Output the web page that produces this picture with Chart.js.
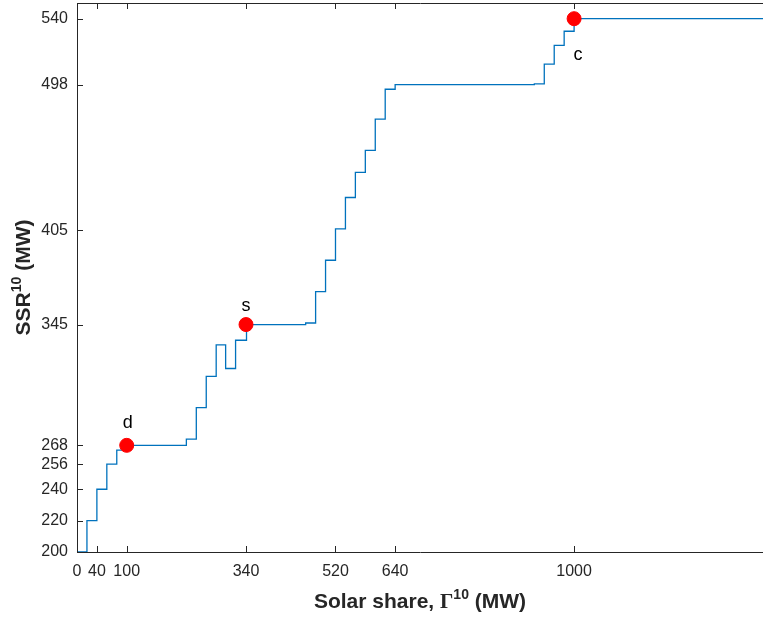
<!DOCTYPE html>
<html>
<head>
<meta charset="utf-8">
<script src="https://cdn.jsdelivr.net/npm/chart.js@4.4.1/dist/chart.umd.min.js"></script>
<style>
  html, body { margin: 0; padding: 0; background: #fff; }
  #wrap { width: 763px; height: 621px; position: relative; }
</style>
</head>
<body>
<div id="wrap"><canvas id="chart" width="763" height="621"></canvas></div>
<script>
// step curve: at each x the value jumps to y
const stepX = [0, 20, 40, 60, 80, 95, 220, 240, 260, 280, 299, 319, 341, 460, 480, 500, 520, 540, 560, 580, 600, 620, 640, 920, 940, 960, 980, 1000, 1380];
const stepY = [200, 220, 240, 256, 265, 268, 272, 292, 312, 332, 317, 335, 345, 346, 366, 386, 406, 426, 442, 456, 476, 495, 498, 498.5, 511, 523, 532, 540, 540];

// marked points
const markX = [100, 340, 1000];
const markY = [268, 345, 540];
const markText = ['d', 's', 'c'];

const xTicks = [0, 40, 100, 340, 520, 640, 1000];
const yTicks = [200, 220, 240, 256, 268, 345, 405, 498, 540];

const axisColor = '#262626';
const lineColor = '#0072BD';

const stepData = stepX.map((x, i) => ({ x: x, y: stepY[i] }));
const markData = markX.map((x, i) => ({ x: x, y: markY[i] }));

// inward ticks and box, like the original figure (right side is cut off)
const boxPlugin = {
  id: 'box',
  afterDraw(chart) {
    const { ctx, chartArea: a, scales } = chart;
    ctx.save();
    ctx.strokeStyle = axisColor;
    ctx.lineWidth = 1;
    ctx.beginPath();
    ctx.moveTo(a.right + 0.5, a.top + 0.5);
    ctx.lineTo(a.left + 0.5, a.top + 0.5);
    ctx.lineTo(a.left + 0.5, a.bottom + 0.5);
    ctx.lineTo(a.right + 0.5, a.bottom + 0.5);
    ctx.stroke();
    const len = 6;
    ctx.beginPath();
    xTicks.forEach(v => {
      const px = Math.round(scales.x.getPixelForValue(v)) + 0.5;
      ctx.moveTo(px, a.bottom);
      ctx.lineTo(px, a.bottom - len);
      ctx.moveTo(px, a.top);
      ctx.lineTo(px, a.top + len);
    });
    yTicks.forEach(v => {
      const py = Math.round(scales.y.getPixelForValue(v)) + 0.5;
      ctx.moveTo(a.left, py);
      ctx.lineTo(a.left + len, py);
    });
    ctx.stroke();
    ctx.restore();
  }
};

// point letters
const markLabels = {
  id: 'markLabels',
  afterDatasetsDraw(chart) {
    const { ctx, scales } = chart;
    const offsets = [[1, -17], [0, -14], [4, 41]];
    ctx.save();
    ctx.fillStyle = '#000';
    ctx.font = '18px "Liberation Sans", Arial, sans-serif';
    ctx.textAlign = 'center';
    ctx.textBaseline = 'alphabetic';
    markText.forEach((t, i) => {
      const px = scales.x.getPixelForValue(markX[i]);
      const py = scales.y.getPixelForValue(markY[i]);
      ctx.fillText(t, px + offsets[i][0], py + offsets[i][1]);
    });
    ctx.restore();
  }
};

// axis titles with superscripts
function drawParts(ctx, parts, cx, baseline) {
  let total = 0;
  parts.forEach(p => { ctx.font = p.font; p.w = ctx.measureText(p.text).width; total += p.w; });
  let x = cx - total / 2;
  parts.forEach(p => {
    ctx.font = p.font;
    ctx.fillText(p.text, x, baseline - (p.rise || 0));
    x += p.w;
  });
}

const titles = {
  id: 'titles',
  afterDraw(chart) {
    const { ctx, chartArea: a } = chart;
    const sans = 'bold 21px "Liberation Sans", Arial, sans-serif';
    const sup = 'bold 14px "Liberation Sans", Arial, sans-serif';
    ctx.save();
    ctx.fillStyle = axisColor;
    ctx.textAlign = 'left';
    ctx.textBaseline = 'alphabetic';
    drawParts(ctx, [
      { text: 'Solar share, ', font: sans },
      { text: 'Γ', font: 'bold 21px "Liberation Serif", "Times New Roman", serif' },
      { text: '10', font: sup, rise: 9 },
      { text: ' (MW)', font: sans }
    ], (a.left + a.right) / 2, 608);
    ctx.translate(30, (a.top + a.bottom) / 2);
    ctx.rotate(-Math.PI / 2);
    drawParts(ctx, [
      { text: 'SSR', font: sans },
      { text: '10', font: sup, rise: 9 },
      { text: ' (MW)', font: sans }
    ], 0, 0);
    ctx.restore();
  }
};

new Chart(document.getElementById('chart'), {
  type: 'scatter',
  data: {
    datasets: [
      {
        type: 'scatter',
        data: markData,
        backgroundColor: '#ff0000',
        borderColor: '#ff0000',
        pointRadius: 7,
        pointHoverRadius: 7,
        clip: false,
        order: 0
      },
      {
        type: 'line',
        data: stepData,
        stepped: 'before',
        borderColor: lineColor,
        borderWidth: 1.3,
        pointRadius: 0,
        fill: false,
        order: 1
      }
    ]
  },
  options: {
    responsive: false,
    animation: false,
    layout: { autoPadding: false, padding: { top: 3, right: 0, left: 0, bottom: 0 } },
    plugins: {
      legend: { display: false },
      tooltip: { enabled: false }
    },
    scales: {
      x: {
        type: 'linear',
        min: 0,
        max: 1380,
        afterBuildTicks: s => { s.ticks = xTicks.map(v => ({ value: v })); },
        afterFit: s => { s.height = 69; s.paddingLeft = 0; s.paddingRight = 0; },
        grid: { display: false, drawTicks: false },
        border: { display: false },
        ticks: {
          color: axisColor,
          padding: 10,
          maxRotation: 0,
          autoSkip: false,
          callback: v => String(v),
          font: { family: '"Liberation Sans", Arial, sans-serif', size: 16 }
        }
      },
      y: {
        type: 'linear',
        min: 200,
        max: 550,
        afterBuildTicks: s => { s.ticks = yTicks.map(v => ({ value: v })); },
        afterFit: s => { s.width = 77; s.paddingTop = 0; s.paddingBottom = 0; },
        grid: { display: false, drawTicks: false },
        border: { display: false },
        ticks: {
          color: axisColor,
          padding: 9,
          autoSkip: false,
          callback: v => String(v),
          font: { family: '"Liberation Sans", Arial, sans-serif', size: 16 }
        }
      }
    }
  },
  plugins: [boxPlugin, markLabels, titles]
});
</script>
</body>
</html>
